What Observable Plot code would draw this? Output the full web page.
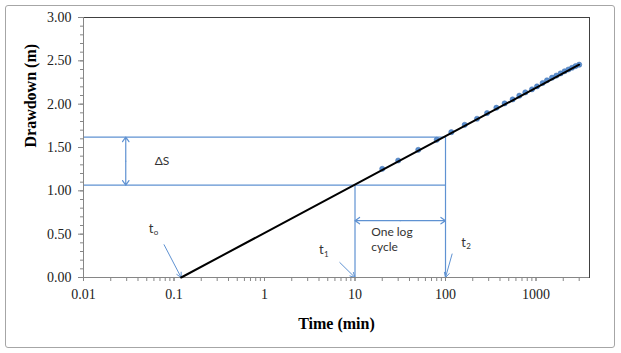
<!DOCTYPE html>
<html>
<head>
<meta charset="utf-8">
<script src="https://cdn.jsdelivr.net/npm/d3@7"></script>
<script src="https://cdn.jsdelivr.net/npm/@observablehq/plot@0.6"></script>
<style>
  html, body { margin: 0; padding: 0; background: #fff; }
  #wrap { position: relative; width: 621px; height: 353px; }
  #border { position: absolute; left: 5px; top: 5px; width: 608px; height: 341px;
            border: 1px solid #a6a6a6; border-radius: 3px; pointer-events: none; }
</style>
</head>
<body>
<div id="wrap"><div id="border"></div></div>
<script>
// ---- data ----
const times    = [20, 30, 50, 80, 116, 163, 223, 288, 365, 450, 552, 654, 762, 903, 1026, 1183, 1322, 1503, 1680, 1870, 2070, 2280, 2500, 2740, 3000];
const drawdown = [1.254, 1.350, 1.473, 1.589, 1.677, 1.762, 1.832, 1.897, 1.959, 2.009, 2.055, 2.098, 2.136, 2.171, 2.205, 2.244, 2.275, 2.306, 2.33, 2.355, 2.38, 2.40, 2.42, 2.44, 2.456];
const fitTimes = [0.12, 3000];
const fitDrawdown = [0, 2.455];
const xTickValues = [0.01, 0.1, 1, 10, 100, 1000];
const xTickLabels = ["0.01", "0.1", "1", "10", "100", "1000"];
const yTickValues = [0, 0.5, 1, 1.5, 2, 2.5, 3];
const yTickLabels = ["0.00", "0.50", "1.00", "1.50", "2.00", "2.50", "3.00"];
const t0 = 0.12, t1 = 10, t2 = 100;
const s1 = 1.065, s2 = 1.62;
const xMin = 0.01, xMax = 3900;

const points = times.map((t, i) => ({t, s: drawdown[i]}));
const fit = fitTimes.map((t, i) => ({t, s: fitDrawdown[i]}));

const xMinor = [];
for (let d = -2; d <= 3; d++) for (let k = 1; k <= 9; k++) {
  const v = k * Math.pow(10, d);
  if (v <= xMax) xMinor.push(v);
}
const yMinor = d3.range(0, 3.0001, 0.1).map(v => +v.toFixed(1));

// annotation geometry (data coordinates)
const guideLines = [
  {x1: xMin, y1: s2, x2: t2, y2: s2},
  {x1: xMin, y1: s1, x2: t2, y2: s1},
  {x1: t1, y1: s1, x2: t1, y2: 0},
  {x1: t2, y1: s2, x2: t2, y2: 0}
];
// double-headed arrows: drawn as two arrows from the midpoint outward
const dsX = 0.0293, dsMid = (s1 + s2) / 2;
const cycY = 0.656, cycMid = Math.sqrt(t1 * t2);
const arrows = [
  {x1: dsX, y1: dsMid, x2: dsX, y2: s2},
  {x1: dsX, y1: dsMid, x2: dsX, y2: s1},
  {x1: cycMid, y1: cycY, x2: t1, y2: cycY},
  {x1: cycMid, y1: cycY, x2: t2, y2: cycY}
];
const pointerArrows = [
  {x1: 0.0777, y1: 0.378, x2: t0, y2: 0},
  {x1: 6.79, y1: 0.173, x2: t1, y2: 0},
  {x1: 118.3, y1: 0.271, x2: t2, y2: 0}
];
const labels = [
  {x: 0.0612, y: 1.338, text: "ΔS"},
  {x: 15.1, y: 0.528, text: "One log"},
  {x: 15.1, y: 0.355, text: "cycle"}
];
const tLabels = [
  {x: 0.0525, y: 0.563, sub: "o"},
  {x: 4.0, y: 0.317, sub: "1"},
  {x: 149, y: 0.405, sub: "2"}
];

const annColor = "#5f92d2";
const annFont = "Lato, 'Liberation Sans', sans-serif";

const chart = Plot.plot({
  width: 621, height: 353,
  marginLeft: 83, marginRight: 32, marginTop: 17, marginBottom: 76,
  x: {type: "log", domain: [xMin, xMax]},
  y: {domain: [0, 3]},
  style: {fontFamily: "'Liberation Serif', 'Times New Roman', serif", fontSize: "14px", color: "#222", background: "transparent", overflow: "visible"},
  marks: [
    Plot.frame({stroke: "#404040", strokeWidth: 1}),
    // guide lines
    Plot.link(guideLines, {x1: "x1", y1: "y1", x2: "x2", y2: "y2", stroke: annColor, strokeWidth: 1.2}),
    Plot.arrow(arrows, {x1: "x1", y1: "y1", x2: "x2", y2: "y2", stroke: annColor, strokeWidth: 1.2, headLength: 7, headAngle: 70}),
    Plot.arrow(pointerArrows, {x1: "x1", y1: "y1", x2: "x2", y2: "y2", stroke: annColor, strokeWidth: 1, headLength: 8, headAngle: 55}),
    // axes
    Plot.axisX(xMinor, {tickSize: 4, tickFormat: () => "", stroke: "#868686"}),
    Plot.axisX(xTickValues, {tickSize: 4, tickPadding: 8, tickFormat: (d) => xTickLabels[xTickValues.indexOf(d)], stroke: "#868686", fill: "#222", fontSize: 14, label: null}),
    Plot.axisY(yMinor, {tickSize: 3, tickFormat: () => "", stroke: "#868686"}),
    Plot.axisY(yTickValues, {tickSize: 5, tickPadding: 7, tickFormat: (d) => yTickLabels[yTickValues.indexOf(d)], stroke: "#868686", fill: "#222", fontSize: 14, label: null}),
    Plot.ruleX([xMin], {stroke: "#868686"}),
    Plot.ruleY([0], {stroke: "#868686"}),
    // data
    Plot.dot(points, {x: "t", y: "s", r: 2.6, fill: "#5a8fd0", stroke: "#3f6fae", strokeWidth: 0.5}),
    Plot.line(fit, {x: "t", y: "s", stroke: "#000", strokeWidth: 2}),
    // annotation text
    Plot.text(labels, {x: "x", y: "y", text: "text", textAnchor: "start", fontFamily: annFont, fontSize: 12, fill: "#333"}),
    Plot.text(tLabels, {x: "x", y: "y", text: () => "t", textAnchor: "start", fontFamily: annFont, fontSize: 13, fill: "#333"}),
    Plot.text(tLabels, {x: "x", y: "y", text: "sub", textAnchor: "start", dx: 5, dy: 4, fontFamily: annFont, fontSize: 8, fill: "#333"}),
    // axis titles
    Plot.text(["Time (min)"], {frameAnchor: "bottom", dy: 51, fontWeight: "bold", fontSize: 16, fill: "#000"}),
    Plot.text(["Drawdown (m)"], {frameAnchor: "left", dx: -53, rotate: -90, fontWeight: "bold", fontSize: 16, fill: "#000"})
  ]
});
document.getElementById("wrap").prepend(chart);
</script>
</body>
</html>
